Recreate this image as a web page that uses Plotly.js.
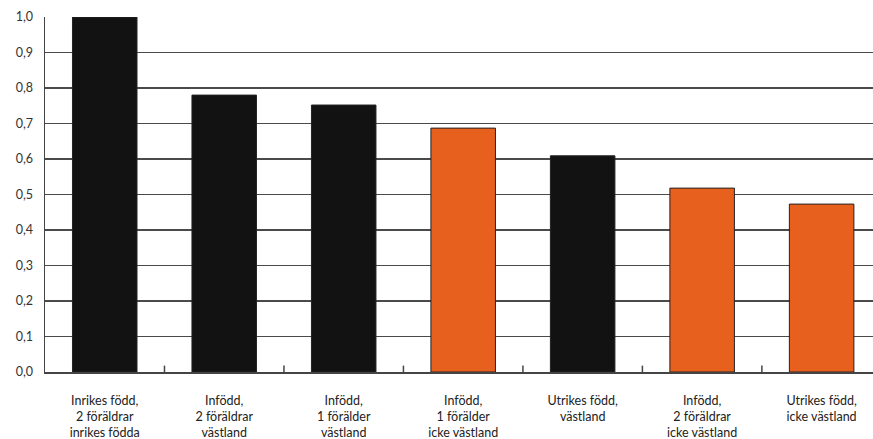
<!DOCTYPE html>
<html>
<head>
<meta charset="utf-8">
<script src="https://cdn.plot.ly/plotly-3.0.1.min.js"></script>
<style>html,body{margin:0;padding:0;background:#fff;}#chart{width:873px;height:439px;}</style>
</head>
<body>
<div id="chart"></div>
<script>
var categories = [
  "Inrikes född,<br>2 föräldrar<br>inrikes födda",
  "Infödd,<br>2 föräldrar<br>västland",
  "Infödd,<br>1 förälder<br>västland",
  "Infödd,<br>1 förälder<br>icke västland",
  "Utrikes född,<br>västland",
  "Infödd,<br>2 föräldrar<br>icke västland",
  "Utrikes född,<br>icke västland"
];
var values = [1.0, 0.78, 0.752, 0.687, 0.609, 0.518, 0.473];
var groupColors = ["#121212", "#121212", "#121212", "#E8601E", "#121212", "#E8601E", "#E8601E"];
var yTickVals = [0, 0.1, 0.2, 0.3, 0.4, 0.5, 0.6, 0.7, 0.8, 0.9, 1.0];
var yTickText = ["0,0", "0,1", "0,2", "0,3", "0,4", "0,5", "0,6", "0,7", "0,8", "0,9", "1,0"];

var idx = categories.map(function(_, i){ return i; });

var trace = {
  type: "bar",
  x: idx,
  y: values,
  width: 0.54,
  marker: {color: groupColors, line: {color: "#222", width: 1}},
  hoverinfo: "y"
};

var layout = {
  width: 873, height: 439,
  margin: {l: 45, r: 0, t: 17, b: 67},
  paper_bgcolor: "#fff", plot_bgcolor: "#fff",
  font: {family: "Lato, 'Open Sans', sans-serif", size: 12, color: "#333"},
  showlegend: false,
  xaxis: {
    type: "linear",
    range: [-0.5, 6.43],
    tickmode: "array",
    tickvals: idx,
    ticktext: categories,
    ticks: "",
    showgrid: false,
    zeroline: false,
    showline: true, linecolor: "#444", linewidth: 1.5,
    ticklabelstandoff: 16,
    tickfont: {size: 12.5, color: "#222"}
  },
  yaxis: {
    range: [0, 1.0],
    tickmode: "array",
    tickvals: yTickVals,
    ticktext: yTickText,
    ticks: "",
    showgrid: true, gridcolor: "#4a4a4a", gridwidth: 1.6,
    zeroline: false,
    showline: true, linecolor: "#444", linewidth: 1.5,
    ticklabelstandoff: 8,
    tickfont: {size: 12.5, color: "#333"}
  },
  shapes: [0.5, 1.5, 2.5, 3.5, 4.5, 5.5].map(function(b){
    return {type: "line", xref: "x", yref: "paper", x0: b, x1: b, y0: 0, y1: 0.018,
            line: {color: "#444", width: 1.5}};
  })
};

Plotly.newPlot("chart", [trace], layout, {displayModeBar: false, staticPlot: true});
</script>
</body>
</html>
